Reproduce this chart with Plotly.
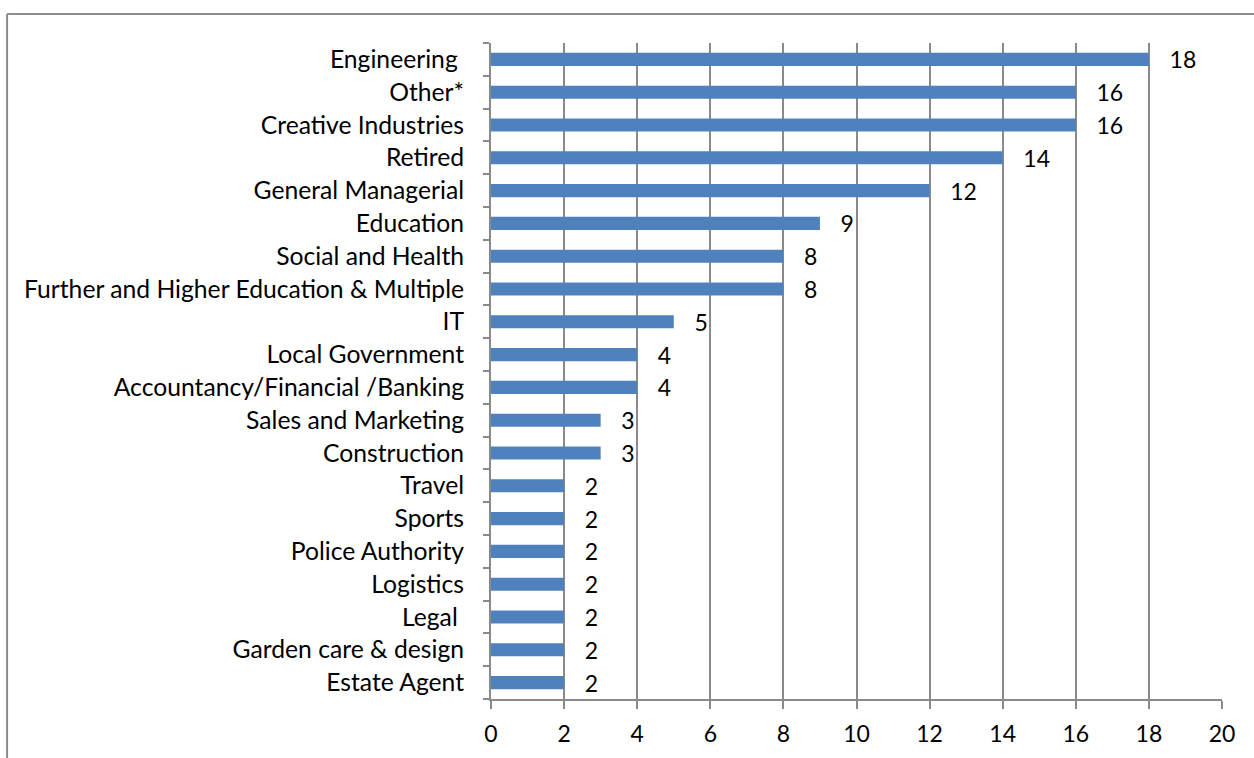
import plotly.graph_objects as go

categories = ["Engineering ", "Other*", "Creative Industries", "Retired", "General Managerial",
              "Education", "Social and Health", "Further and Higher Education & Multiple", "IT",
              "Local Government", "Accountancy/Financial /Banking", "Sales and Marketing",
              "Construction", "Travel", "Sports", "Police Authority", "Logistics", "Legal ",
              "Garden care & design", "Estate Agent"]
values = [18, 16, 16, 14, 12, 9, 8, 8, 5, 4, 4, 3, 3, 2, 2, 2, 2, 2, 2, 2]
x_ticks = list(range(0, 21, 2))

cats = categories[::-1]
vals = values[::-1]

FONT = "Lato"
GRID = "#8a8a8a"

fig = go.Figure(go.Bar(
    x=vals, y=cats, orientation="h",
    marker=dict(color="#4F81BD", line=dict(width=0)),
    text=vals, texttemplate="   %{x}", textposition="outside", cliponaxis=False,
    constraintext="none",
    textfont=dict(family=FONT, size=23, color="#000000"),
))

fig.update_layout(
    width=1254, height=758,
    margin=dict(l=491, r=32, t=43, b=59),
    paper_bgcolor="white", plot_bgcolor="white",
    bargap=0.6, showlegend=False,
    font=dict(family=FONT, size=24, color="#000000"),
    xaxis=dict(range=[0, 20], tickvals=x_ticks, showgrid=True, gridcolor=GRID, gridwidth=1.5,
               showline=True, linecolor=GRID, linewidth=2, ticks="outside", ticklen=8,
               tickcolor=GRID, tickwidth=2, zeroline=False, ticklabelstandoff=5,
               tickfont=dict(family=FONT, size=23, color="#000000")),
    yaxis=dict(showgrid=False, showline=True, linecolor=GRID, linewidth=2,
               ticks="outside", ticklen=6, tickcolor=GRID, tickwidth=2, tickson="boundaries",
               ticklabelstandoff=20,
               tickfont=dict(family=FONT, size=24.7, color="#000000")),
    shapes=[
        dict(type="line", xref="paper", yref="paper", x0=-0.662, x1=1.2, y0=1.0442, y1=1.0442,
             line=dict(color="#8c8c8c", width=2)),
        dict(type="line", xref="paper", yref="paper", x0=-0.662, x1=-0.662, y0=1.0442, y1=-0.2,
             line=dict(color="#8c8c8c", width=2)),
    ],
)

fig.write_html("out.html")
